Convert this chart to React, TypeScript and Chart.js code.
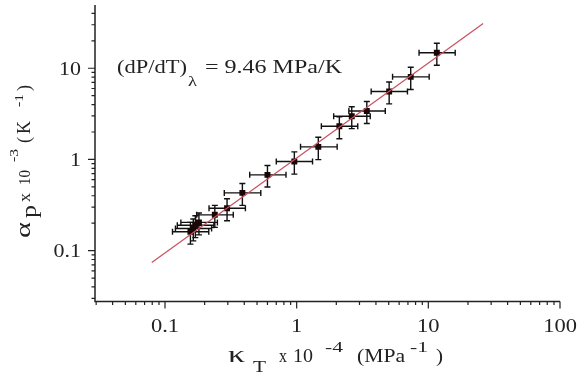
import React, { useEffect, useRef } from 'react';
import { Chart, registerables } from 'chart.js';

Chart.register(...registerables);

// ---- data ----
const kappaT = [11.6, 7.35, 5.04, 3.41, 2.62, 2.11, 1.46, 0.96, 0.6, 0.387, 0.296, 0.239, 0.181, 0.17, 0.164, 0.156];
const alphaP = [14.8, 8.05, 5.57, 3.4, 2.98, 2.31, 1.375, 0.95, 0.678, 0.43, 0.292, 0.247, 0.204, 0.19, 0.175, 0.161];
const kappaErrMinus = [3.1, 2.0, 1.36, 0.92, 0.71, 0.57, 0.39, 0.26, 0.16, 0.105, 0.08, 0.065, 0.049, 0.046, 0.044, 0.042];
const kappaErrPlus = [4.4, 2.8, 1.9, 1.3, 1.0, 0.8, 0.57, 0.36, 0.23, 0.147, 0.112, 0.091, 0.069, 0.065, 0.062, 0.059];
const alphaErr = [4.0, 2.2, 1.5, 0.92, 0.8, 0.62, 0.38, 0.26, 0.18, 0.116, 0.079, 0.067, 0.055, 0.051, 0.047, 0.043];

const fitX = [0.0793, 26.1];
const fitY = [0.0743, 31.0];

const xTickValues = [0.1, 1, 10, 100];
const xTickLabels = ['0.1', '1', '10', '100'];
const yTickValues = [0.1, 1, 10];
const yTickLabels = ['0.1', '1', '10'];

const X_MIN = 0.0294;
const X_MAX = 100;
const Y_MIN = 0.0277;
const Y_MAX = 49.4;

const SERIF = '"Liberation Serif", "Times New Roman", serif';
const INK = '#222';

function logTicks(min: number, max: number) {
  const out: { value: number; major: boolean }[] = [];
  for (let e = Math.floor(Math.log10(min)); e <= Math.ceil(Math.log10(max)); e++) {
    for (let m = 1; m <= 9; m++) {
      const v = parseFloat((m * Math.pow(10, e)).toPrecision(6));
      if (v >= min * 0.9999 && v <= max * 1.0001) out.push({ value: v, major: m === 1 });
    }
  }
  return out;
}

function fitText(ctx: CanvasRenderingContext2D, text: string, x0: number, x1: number, baseline: number, size: number) {
  ctx.font = `${size}px ${SERIF}`;
  const w = ctx.measureText(text).width;
  const sx = (x1 - x0) / w;
  ctx.save();
  ctx.translate(x0, baseline);
  ctx.scale(sx, 1);
  ctx.textAlign = 'left';
  ctx.textBaseline = 'alphabetic';
  ctx.fillText(text, 0, 0);
  ctx.restore();
}

function stretched(ctx: CanvasRenderingContext2D, text: string, cx: number, baseline: number, size: number, sx: number, align: 'center' | 'right') {
  ctx.save();
  ctx.font = `${size}px ${SERIF}`;
  ctx.translate(cx, baseline);
  ctx.scale(sx, 1);
  ctx.textAlign = align;
  ctx.textBaseline = 'alphabetic';
  ctx.fillText(text, 0, 0);
  ctx.restore();
}

const errorBarsPlugin = {
  id: 'errorBars',
  beforeDatasetsDraw(chart: any) {
    const { ctx, scales } = chart;
    const x = scales.x;
    const y = scales.y;
    const cap = 3;
    ctx.save();
    ctx.strokeStyle = '#111';
    ctx.lineWidth = 1.4;
    for (let i = 0; i < kappaT.length; i++) {
      const px = x.getPixelForValue(kappaT[i]);
      const py = y.getPixelForValue(alphaP[i]);
      const xl = x.getPixelForValue(kappaT[i] - kappaErrMinus[i]);
      const xr = x.getPixelForValue(kappaT[i] + kappaErrPlus[i]);
      const yt = y.getPixelForValue(alphaP[i] + alphaErr[i]);
      const yb = y.getPixelForValue(alphaP[i] - alphaErr[i]);
      ctx.beginPath();
      ctx.moveTo(xl, py); ctx.lineTo(xr, py);
      ctx.moveTo(xl, py - cap); ctx.lineTo(xl, py + cap);
      ctx.moveTo(xr, py - cap); ctx.lineTo(xr, py + cap);
      ctx.moveTo(px, yt); ctx.lineTo(px, yb);
      ctx.moveTo(px - cap, yt); ctx.lineTo(px + cap, yt);
      ctx.moveTo(px - cap, yb); ctx.lineTo(px + cap, yb);
      ctx.stroke();
    }
    ctx.restore();
  },
};

const axesPlugin = {
  id: 'customAxes',
  afterDraw(chart: any) {
    const { ctx, chartArea, scales } = chart;
    const x = scales.x;
    const y = scales.y;
    const { left, right, top, bottom } = chartArea;
    ctx.save();
    ctx.strokeStyle = INK;
    ctx.fillStyle = INK;
    ctx.lineWidth = 1.5;
    // axis lines
    ctx.beginPath();
    ctx.moveTo(left, top);
    ctx.lineTo(left, bottom);
    ctx.lineTo(right, bottom);
    ctx.stroke();
    // ticks
    ctx.lineWidth = 1.2;
    ctx.beginPath();
    for (const t of x.ticks) {
      const px = x.getPixelForValue(t.value);
      if (px < left - 0.5 || px > right + 0.5) continue;
      ctx.moveTo(px, bottom);
      ctx.lineTo(px, bottom + (t.major ? 7 : 3.5));
    }
    for (const t of y.ticks) {
      const py = y.getPixelForValue(t.value);
      if (py < top - 0.5 || py > bottom + 0.5) continue;
      ctx.moveTo(left, py);
      ctx.lineTo(left - (t.major ? 7 : 3.5), py);
    }
    ctx.stroke();
    // tick labels
    xTickValues.forEach((v, i) => {
      stretched(ctx, xTickLabels[i], x.getPixelForValue(v), 332, 18, 1.25, 'center');
    });
    yTickValues.forEach((v, i) => {
      stretched(ctx, yTickLabels[i], left - 14, y.getPixelForValue(v) + 6.5, 18, 1.22, 'right');
    });

    // x title: κT x 10^-4 (MPa^-1)
    fitText(ctx, 'κ', 228, 245, 362, 24);
    fitText(ctx, 'T', 253, 266, 372, 17);
    fitText(ctx, 'x', 279, 287, 362, 19);
    fitText(ctx, '10', 293, 313, 362, 19);
    fitText(ctx, '-4', 325, 343, 352, 14);
    fitText(ctx, '(MPa', 357, 405, 362, 19);
    fitText(ctx, '-1', 410, 428, 352, 14);
    fitText(ctx, ')', 436, 443, 362, 19);

    // y title (rotated): αp x 10^-3 (K^-1)
    ctx.save();
    ctx.translate(30, 0);
    ctx.rotate(-Math.PI / 2);
    // in rotated frame: u = -screenY, v = screenX - 30
    fitText(ctx, 'α', -238, -222, 0, 21);
    fitText(ctx, 'p', -218, -205, 6, 21);
    fitText(ctx, 'x', -202, -193, 0, 17);
    fitText(ctx, '10', -185, -170, 0, 17);
    fitText(ctx, '-3', -162, -149, -12, 13);
    fitText(ctx, '(', -143, -137, 0, 19);
    fitText(ctx, 'K', -134, -121, 0, 18);
    fitText(ctx, '-1', -107, -94, -7, 13);
    fitText(ctx, ')', -91, -85, 0, 19);
    ctx.restore();

    // annotation
    fitText(ctx, '(dP/dT)', 117, 187, 73, 19);
    fitText(ctx, 'λ', 188, 197, 86, 15);
    fitText(ctx, '= 9.46 MPa/K', 205, 342, 73, 19);
    ctx.restore();
  },
};

export default function App() {
  const ref = useRef<HTMLCanvasElement | null>(null);
  useEffect(() => {
    if (!ref.current) return;
    const points = kappaT.map((k, i) => ({ x: k, y: alphaP[i] }));
    const fit = fitX.map((k, i) => ({ x: k, y: fitY[i] }));
    const chart = new Chart(ref.current, {
      type: 'scatter',
      data: {
        datasets: [
          {
            type: 'line',
            data: fit,
            borderColor: '#c8505e',
            borderWidth: 1.2,
            pointRadius: 0,
            fill: false,
          } as any,
          {
            data: points,
            pointStyle: 'rect',
            pointRadius: 4.2,
            backgroundColor: '#1a0606',
            borderWidth: 0,
          } as any,
        ],
      },
      options: {
        animation: false,
        responsive: false,
        events: [],
        layout: { padding: { top: 5, right: 23, left: 0, bottom: 0 } },
        plugins: { legend: { display: false }, tooltip: { enabled: false } },
        scales: {
          x: {
            type: 'logarithmic',
            min: X_MIN,
            max: X_MAX,
            grid: { display: false, drawTicks: false },
            border: { display: false },
            ticks: { display: false },
            afterBuildTicks: (s: any) => { s.ticks = logTicks(X_MIN, X_MAX); },
            afterFit: (s: any) => { s.height = 74.5; },
          },
          y: {
            type: 'logarithmic',
            min: Y_MIN,
            max: Y_MAX,
            grid: { display: false, drawTicks: false },
            border: { display: false },
            ticks: { display: false },
            afterBuildTicks: (s: any) => { s.ticks = logTicks(Y_MIN, Y_MAX); },
            afterFit: (s: any) => { s.width = 95; },
          },
        },
      },
      plugins: [errorBarsPlugin, axesPlugin],
    });
    return () => chart.destroy();
  }, []);
  return (
    <div style={{ position: 'fixed', left: 0, top: 0, width: 583, height: 376, background: '#fff' }}>
      <canvas ref={ref} width={583} height={376} style={{ display: 'block' }} />
    </div>
  );
}
